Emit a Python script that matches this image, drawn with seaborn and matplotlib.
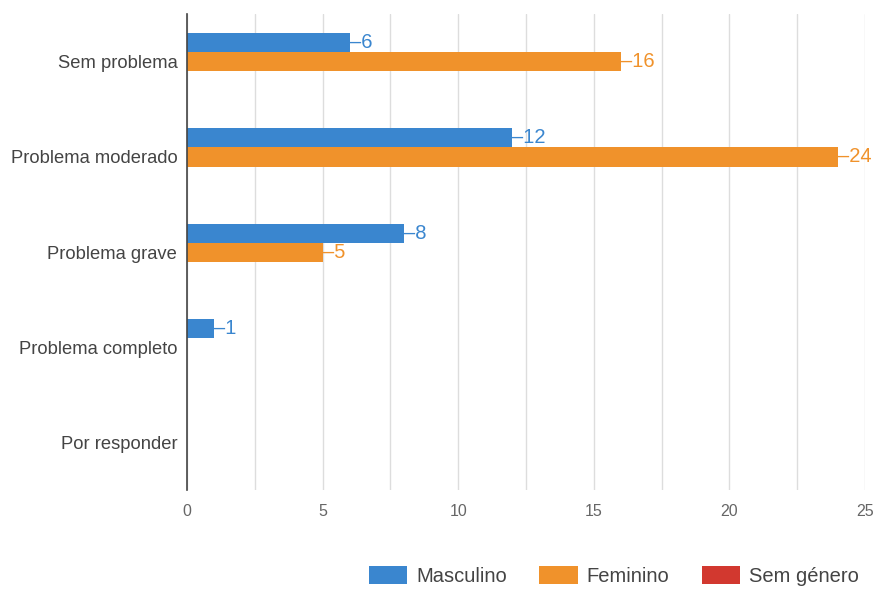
import matplotlib
matplotlib.use("Agg")
import matplotlib.pyplot as plt
import seaborn as sns
import pandas as pd
from matplotlib.patches import Patch

categories = ["Sem problema", "Problema moderado", "Problema grave", "Problema completo", "Por responder"]
series = ["Masculino", "Feminino", "Sem género"]
masculino = [6, 12, 8, 1, 0]
feminino = [16, 24, 5, 0, 0]
sem_genero = [0, 0, 0, 0, 0]
xticks = [0, 5, 10, 15, 20, 25]
colors = ["#3a86cf", "#f0922b", "#d2382f"]

rows = []
for s, vals in zip(series, [masculino, feminino, sem_genero]):
    for c, v in zip(categories, vals):
        rows.append({"cat": c, "serie": s, "val": v})
df = pd.DataFrame(rows)

sns.set_theme(style="white")
plt.rcParams['font.family'] = ['Liberation Sans', 'DejaVu Sans']

fig = plt.figure(figsize=(8.77, 5.92), dpi=100)
ax = fig.add_axes([0.2132, 0.172, 0.9863 - 0.2132, 0.976 - 0.172])

sns.barplot(data=df, y="cat", x="val", hue="serie", palette=colors, orient="h",
            order=categories, hue_order=series, width=0.6, ax=ax, legend=False,
            saturation=1, edgecolor="none")

ax.set_xlim(0, 25)
ax.set_xticks(xticks)
ax.set_xticks([2.5, 7.5, 12.5, 17.5, 22.5], minor=True)
ax.grid(axis="x", which="both", color="#dddddd", linewidth=1)
ax.set_axisbelow(True)
ax.set_xlabel("")
ax.set_ylabel("")
for sp in ["top", "right", "bottom"]:
    ax.spines[sp].set_visible(False)
ax.spines["left"].set_color("#444444")
ax.spines["left"].set_linewidth(1.2)
ax.tick_params(axis="x", which="both", length=0, labelsize=11.5, labelcolor="#666666", pad=10)
ax.tick_params(axis="y", length=0, labelsize=13.2, labelcolor="#444444", pad=7)

for container, col in zip(ax.containers, colors):
    for bar in container:
        w = bar.get_width()
        if w > 0:
            y = bar.get_y() + bar.get_height() / 2
            ax.text(w, y, "\u2013" + f"{int(w)}", color=col, va="center", ha="left",
                    fontsize=14.5, clip_on=False)

handles = [Patch(facecolor=c, edgecolor="none", label=s) for s, c in zip(series, colors)]
fig.legend(handles=handles, loc="lower right", bbox_to_anchor=(1.0, -0.02), ncol=3,
           frameon=False, fontsize=14.5, handlelength=1.9, handleheight=1.0,
           columnspacing=1.6, handletextpad=0.45, labelcolor="#444444")

fig.savefig("out.png", dpi=100)
